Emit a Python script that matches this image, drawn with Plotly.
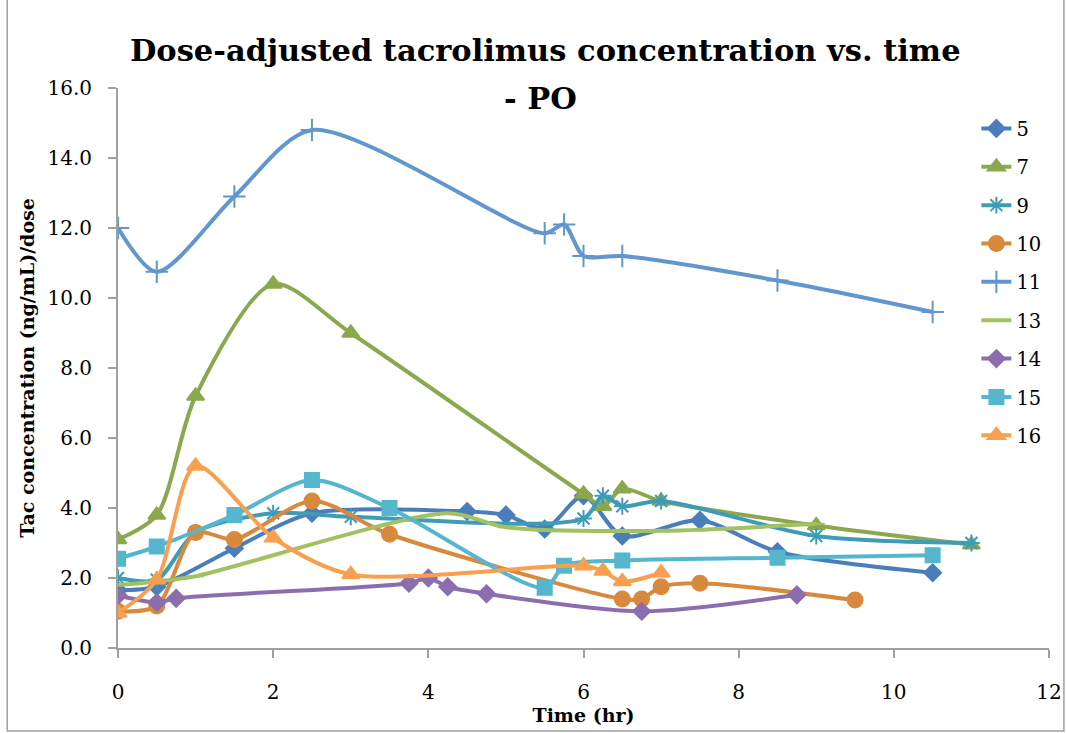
import plotly.graph_objects as go

# patient id -> (time hr, dose-adjusted conc)
t5 = [0, 0.5, 1.5, 2.5, 4.5, 5, 5.5, 6, 6.5, 7.5, 8.5, 10.5]
c5 = [1.65, 1.75, 2.85, 3.85, 3.9, 3.8, 3.4, 4.35, 3.2, 3.65, 2.75, 2.15]

t7 = [0, 0.5, 1, 2, 3, 6, 6.25, 6.5, 7, 9, 11]
c7 = [3.1, 3.8, 7.2, 10.4, 9.0, 4.4, 4.05, 4.55, 4.2, 3.5, 2.95]

t9 = [0, 0.5, 1, 2, 3, 6, 6.25, 6.5, 7, 9, 11]
c9 = [2.0, 1.95, 3.3, 3.85, 3.75, 3.7, 4.35, 4.05, 4.2, 3.2, 3.0]

t10 = [0, 0.5, 1, 1.5, 2.5, 3.5, 6.5, 6.75, 7, 7.5, 9.5]
c10 = [1.05, 1.2, 3.3, 3.1, 4.2, 3.25, 1.4, 1.4, 1.75, 1.85, 1.37]

t11 = [0, 0.5, 1.5, 2.5, 5.5, 5.75, 6, 6.5, 8.5, 10.5]
c11 = [12.0, 10.75, 12.9, 14.8, 11.85, 12.1, 11.2, 11.2, 10.5, 9.6]

t13 = [0, 0.5, 1, 4.25, 5, 7, 9]
c13 = [1.8, 1.9, 2.05, 3.85, 3.45, 3.35, 3.55]

t14 = [0, 0.5, 0.75, 3.75, 4, 4.25, 4.75, 6.75, 8.75]
c14 = [1.5, 1.3, 1.42, 1.85, 2.0, 1.75, 1.55, 1.05, 1.52]

t15 = [0, 0.5, 1.5, 2.5, 3.5, 5.5, 5.75, 6.5, 8.5, 10.5]
c15 = [2.55, 2.9, 3.8, 4.8, 4.0, 1.72, 2.35, 2.5, 2.58, 2.65]

t16 = [0, 0.5, 1, 2, 3, 6, 6.25, 6.5, 7]
c16 = [1.0, 1.95, 5.2, 3.15, 2.1, 2.35, 2.2, 1.9, 2.15]

series = [
    ("5", t5, c5, "#4A7EBB", "diamond", 13),
    ("7", t7, c7, "#8BA84F", "triangle-up", 15),
    ("9", t9, c9, "#3E9CB6", "asterisk-open", 14),
    ("10", t10, c10, "#D9893E", "circle", 15),
    ("11", t11, c11, "#6296CE", "cross-thin-open", 16),
    ("13", t13, c13, "#A2C163", "line-ew-open", 12),
    ("14", t14, c14, "#8B6EAE", "diamond", 13),
    ("15", t15, c15, "#55B6CE", "square", 14),
    ("16", t16, c16, "#F8A04F", "triangle-up", 15),
]

fig = go.Figure()
for i, (name, t, c, col, sym, sz) in enumerate(series):
    fig.add_trace(go.Scatter(
        x=t, y=c, name=name, mode="lines+markers",
        line=dict(color=col, width=4, shape="spline", smoothing=0.8),
        marker=dict(symbol=sym, size=sz, color=col,
                    line=dict(color=col, width=2)),
        legendgroup=f"g{i}",
    ))

serif = "DejaVu Serif"
fig.update_layout(
    width=1067, height=733,
    paper_bgcolor="white", plot_bgcolor="white",
    margin=dict(l=118, r=18, t=88, b=85, autoexpand=False),
    title=dict(
        text="<b>Dose-adjusted tacrolimus concentration vs. time</b>",
        x=0.511, xanchor="center", y=0.931, yanchor="middle",
        font=dict(family=serif, size=30.5, color="black"),
    ),
    annotations=[dict(text="<b>- PO</b>", xref="paper", yref="paper",
                      x=0.454, y=0.982, xanchor="center", yanchor="middle",
                      showarrow=False, font=dict(family=serif, size=30.5, color="black"))],
    font=dict(family=serif, size=20, color="black"),
    legend=dict(x=0.922, y=0.962, xanchor="left", yanchor="top",
                bgcolor="rgba(0,0,0,0)", tracegroupgap=10,
                font=dict(family=serif, size=19.5)),
    xaxis=dict(range=[0, 12], dtick=2, showgrid=False, zeroline=False,
               showline=True, linecolor="#A0A0A0", linewidth=2,
               ticks="outside", tickcolor="#A0A0A0", ticklen=8, tickwidth=2,
               ticklabelstandoff=17,
               title=dict(text="<b>Time (hr)</b>", standoff=5,
                          font=dict(family=serif, size=19))),
    yaxis=dict(range=[0, 16], dtick=2, tickformat=".1f", showgrid=False,
               zeroline=False, showline=True, linecolor="#A0A0A0", linewidth=2,
               ticks="outside", tickcolor="#A0A0A0", ticklen=8, tickwidth=2,
               ticklabelstandoff=12,
               title=dict(text="<b>Tac concentration (ng/mL)/dose</b>", standoff=8,
                          font=dict(family=serif, size=19))),
    shapes=[dict(type="rect", xref="paper", yref="paper",
                 x0=-0.119, x1=1.016, y0=-0.148, y1=1.16,
                 line=dict(color="#A0A0A0", width=1.5), layer="below")],
)

# page body has a default 8px margin; drop it so the chart sits at 0,0
fig.write_html("out.html", config={"displayModeBar": False},
               post_script="document.body.style.margin='0';")
